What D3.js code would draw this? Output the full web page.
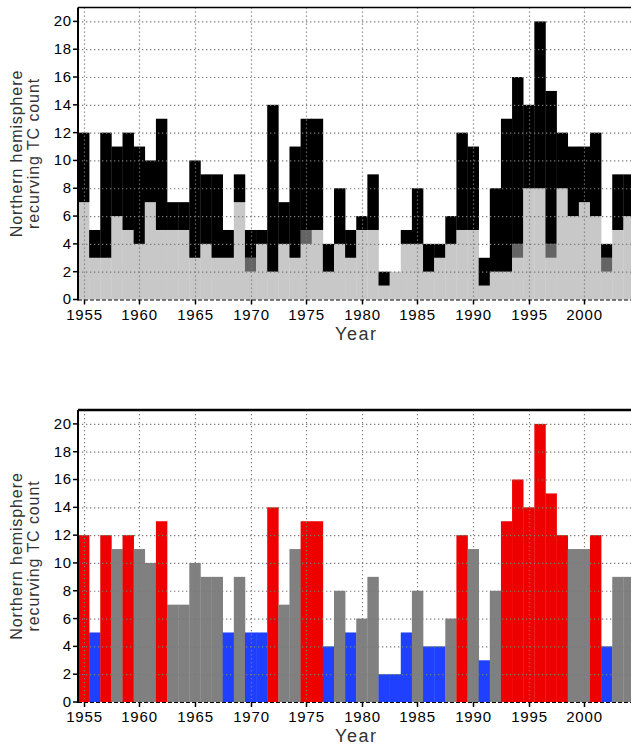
<!DOCTYPE html>
<html lang="en">
<head>
    <meta charset="UTF-8">
    <title>Recurving TC count</title>
    <script src="https://cdn.jsdelivr.net/npm/d3@7"></script>
    <style>
        body { margin: 0; background: #fff; overflow: hidden; }
        svg { display: block; font-family: "Liberation Sans", Arial, Helvetica, sans-serif; }
        .grid line { stroke: #7a7a7a; stroke-width: 1.2px; stroke-dasharray: 1.3,2.7; }
        .tick-label { font-size: 15px; fill: #000; letter-spacing: 0.8px; }
        .axis-title { font-size: 16px; fill: #333; letter-spacing: 0.9px; }
    </style>
</head>
<body>
<div id="chart"></div>
<script>
// years 1955..2004
const years = d3.range(1955, 2005);

// top panel: light gray part, dark gray part (black = rest of total)
const lightPart = [7, 3, 3, 6, 5, 4, 7, 5, 5, 5,
                   3, 4, 3, 3, 7, 2, 4, 2, 4, 3,
                   4, 5, 2, 4, 3, 5, 5, 1, 2, 4,
                   4, 2, 3, 4, 5, 5, 1, 2, 2, 3,
                   8, 8, 3, 8, 6, 7, 6, 2, 5, 6];
const darkPart  = [0, 0, 0, 0, 0, 0, 0, 0, 0, 0,
                   0, 0, 0, 0, 0, 1, 0, 0, 0, 0,
                   1, 0, 0, 0, 0, 0, 0, 0, 0, 0,
                   0, 0, 0, 0, 0, 0, 0, 0, 0, 1,
                   0, 0, 1, 0, 0, 0, 0, 1, 0, 0];
const totals    = [12, 5, 12, 11, 12, 11, 10, 13, 7, 7,
                   10, 9, 9, 5, 9, 5, 5, 14, 7, 11,
                   13, 13, 4, 8, 5, 6, 9, 2, 2, 5,
                   8, 4, 4, 6, 12, 11, 3, 8, 13, 16,
                   14, 20, 15, 12, 11, 11, 12, 4, 9, 9];

const yTicks = [0, 2, 4, 6, 8, 10, 12, 14, 16, 18, 20];
const xTicks = [1955, 1960, 1965, 1970, 1975, 1980, 1985, 1990, 1995, 2000];

const width = 631, height = 746;
const left = 78, right = 634.5;

const svg = d3.select("#chart").append("svg")
    .attr("width", width)
    .attr("height", height);

const x = d3.scaleLinear().domain([1954.5, 2004.5]).range([left, right]);

// draw one panel; bars is a callback that adds rects with the y scale
function drawPanel(top, bottom, topStroke, bars) {
    const y = d3.scaleLinear().domain([0, 21]).range([bottom, top]);
    const g = svg.append("g");

    bars(g, y);

    // dotted grid on top of the bars
    const grid = g.append("g").attr("class", "grid");
    grid.selectAll(".hg")
        .data(yTicks.filter(d => d > 0))
        .enter().append("line")
        .attr("x1", left).attr("x2", right)
        .attr("y1", d => y(d) + 0.5).attr("y2", d => y(d) + 0.5);
    grid.selectAll(".vg")
        .data(xTicks)
        .enter().append("line")
        .attr("x1", d => Math.round(x(d)) + 0.5).attr("x2", d => Math.round(x(d)) + 0.5)
        .attr("y1", top).attr("y2", bottom);

    // frame: top solid, left solid, bottom dashed
    g.append("line")
        .attr("x1", left).attr("x2", right)
        .attr("y1", top).attr("y2", top)
        .attr("stroke", "#000").attr("stroke-width", topStroke);
    g.append("line")
        .attr("x1", left).attr("x2", left)
        .attr("y1", top).attr("y2", bottom + 1)
        .attr("stroke", "#000").attr("stroke-width", 2);
    g.append("line")
        .attr("x1", left).attr("x2", right)
        .attr("y1", bottom + 0.5).attr("y2", bottom + 0.5)
        .attr("stroke", "#000").attr("stroke-width", 1)
        .attr("stroke-dasharray", "4,2");

    // y ticks
    const yt = g.append("g").selectAll("g")
        .data(yTicks)
        .enter().append("g")
        .attr("transform", d => `translate(0,${y(d)})`);
    yt.append("line")
        .attr("x1", left - 5).attr("x2", left)
        .attr("stroke", "#000").attr("stroke-width", 1.5);
    yt.append("text")
        .attr("class", "tick-label")
        .attr("x", left - 6)
        .attr("dy", "0.33em")
        .attr("text-anchor", "end")
        .text(d => d);

    // x ticks
    const xt = g.append("g").selectAll("g")
        .data(xTicks)
        .enter().append("g")
        .attr("transform", d => `translate(${Math.round(x(d)) + 0.5},${bottom})`);
    xt.append("line")
        .attr("y1", 0).attr("y2", 5)
        .attr("stroke", "#000").attr("stroke-width", 1.5);
    xt.append("text")
        .attr("class", "tick-label")
        .attr("y", 20)
        .attr("text-anchor", "middle")
        .text(d => d);

    // axis titles
    const midY = (top + bottom) / 2;
    const yTitle = g.append("text")
        .attr("class", "axis-title")
        .attr("transform", `translate(22,${midY}) rotate(-90)`)
        .attr("text-anchor", "middle");
    yTitle.append("tspan").attr("x", 0).attr("dy", 0).text("Northern hemisphere");
    yTitle.append("tspan").attr("x", 0).attr("dy", "1.05em").text("recurving TC count");

    g.append("text")
        .attr("class", "axis-title")
        .attr("x", (left + right) / 2)
        .attr("y", bottom + 40)
        .attr("text-anchor", "middle")
        .style("font-size", "18px")
        .style("letter-spacing", "1.5px")
        .text("Year");
}

// top panel: stacked light gray / dark gray / black
drawPanel(7.5, 299.5, 1.5, function (g, y) {
    const stacks = years.map((yr, i) => ({
        year: yr,
        parts: [
            { lo: 0, hi: lightPart[i], color: "#c8c8c8" },
            { lo: lightPart[i], hi: lightPart[i] + darkPart[i], color: "#646464" },
            { lo: lightPart[i] + darkPart[i], hi: totals[i], color: "#000" }
        ]
    }));
    g.selectAll(".col")
        .data(stacks)
        .enter().append("g")
        .selectAll("rect")
        .data(d => d.parts.filter(p => p.hi > p.lo).map(p => Object.assign({ year: d.year }, p)))
        .enter().append("rect")
        .attr("x", d => x(d.year - 0.5))
        .attr("width", d => x(d.year + 0.5) - x(d.year - 0.5) + 0.3)
        .attr("y", d => y(d.hi))
        .attr("height", d => y(d.lo) - y(d.hi))
        .attr("fill", d => d.color);
});

// bottom panel: totals coloured by class (high / low / normal)
drawPanel(410, 702, 2.5, function (g, y) {
    const color = t => t >= 12 ? "#ee0000" : (t <= 5 ? "#2040ff" : "#808080");
    g.selectAll("rect")
        .data(years.map((yr, i) => ({ year: yr, total: totals[i] })))
        .enter().append("rect")
        .attr("x", d => x(d.year - 0.5))
        .attr("width", d => x(d.year + 0.5) - x(d.year - 0.5) + 0.3)
        .attr("y", d => y(d.total))
        .attr("height", d => y(0) - y(d.total))
        .attr("fill", d => color(d.total));
});
</script>
</body>
</html>
